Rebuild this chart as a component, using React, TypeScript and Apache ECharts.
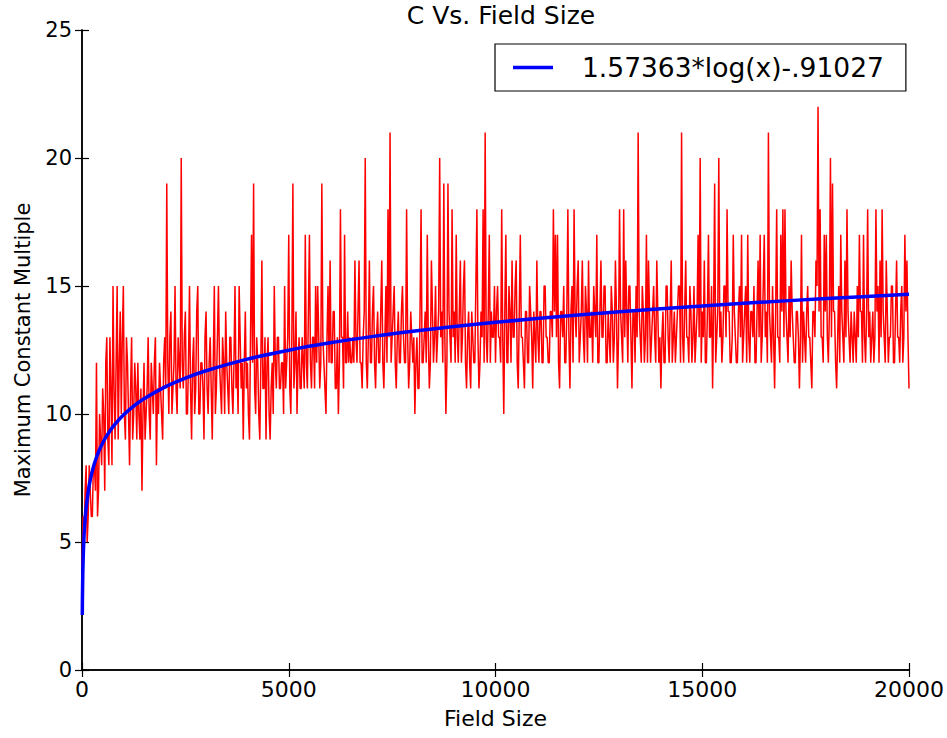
import React, { useEffect, useRef } from "react";
import * as echarts from "echarts";

const TITLE = "C Vs. Field Size";
const X_AXIS_NAME = "Field Size";
const Y_AXIS_NAME = "Maximum Constant Multiple";
const FIT_LABEL = "1.57363*log(x)-.91027";
const X_MIN = 0;
const X_MAX = 20000;
const X_INTERVAL = 5000;
const Y_MIN = 0;
const Y_MAX = 25;
const Y_INTERVAL = 5;

// Field sizes are sampled every FIELD_STEP units, starting at 0 (one row = 1000 units)
const FIELD_STEP = 25;
const maxMultiple = [
  4, 6, 5, 7, 8, 5, 6, 8, 7, 6, 6, 8, 8, 7, 12, 6, 7, 10, 9, 8, 11, 10, 7, 12, 13, 9, 8, 13, 11, 8, 15, 11, 9, 12, 15, 9, 12, 14, 10, 13,
  15, 10, 9, 13, 12, 10, 8, 11, 13, 9, 10, 12, 11, 9, 12, 10, 9, 11, 7, 10, 12, 9, 10, 11, 13, 10, 9, 12, 11, 10, 12, 13, 8, 11, 10, 12, 11, 10, 9, 12,
  13, 11, 19, 12, 10, 13, 14, 10, 11, 12, 15, 11, 10, 13, 12, 11, 20, 12, 11, 13, 14, 10, 10, 12, 15, 11, 9, 12, 13, 10, 11, 14, 15, 10, 10, 12, 12, 11, 9, 13,
  14, 11, 10, 12, 13, 11, 9, 12, 15, 10, 11, 13, 15, 12, 11, 10, 13, 12, 10, 14, 12, 11, 10, 13, 13, 11, 10, 12, 15, 11, 12, 10, 15, 13, 11, 12, 9, 12, 14, 11,
  12, 10, 9, 13, 17, 12, 19, 11, 10, 13, 12, 10, 9, 12, 16, 11, 11, 13, 9, 12, 13, 10, 9, 11, 12, 10, 15, 12, 11, 13, 13, 11, 11, 12, 12, 10, 15, 11, 12, 13,
  17, 11, 10, 13, 19, 11, 12, 14, 10, 12, 13, 11, 11, 13, 12, 11, 17, 12, 11, 14, 17, 12, 11, 13, 13, 11, 15, 12, 15, 13, 11, 12, 19, 13, 12, 11, 10, 13, 15, 12,
  16, 12, 12, 14, 14, 11, 11, 13, 10, 12, 18, 13, 13, 11, 17, 12, 12, 14, 12, 13, 12, 12, 13, 12, 16, 13, 12, 14, 16, 12, 12, 11, 13, 14, 20, 12, 11, 13, 16, 12,
  12, 14, 15, 12, 11, 13, 14, 12, 12, 14, 16, 12, 11, 13, 15, 12, 18, 13, 21, 12, 13, 14, 15, 12, 11, 13, 14, 12, 12, 14, 15, 13, 12, 12, 18, 13, 11, 12, 14, 13,
  12, 13, 10, 12, 13, 11, 11, 14, 18, 12, 12, 13, 14, 12, 17, 13, 11, 12, 16, 14, 12, 13, 15, 12, 13, 14, 20, 13, 14, 12, 19, 13, 10, 12, 19, 14, 13, 12, 18, 13,
  14, 12, 17, 13, 12, 14, 16, 12, 13, 15, 16, 12, 11, 13, 14, 12, 11, 14, 13, 12, 12, 15, 18, 13, 11, 12, 14, 13, 18, 12, 21, 13, 12, 14, 17, 12, 14, 13, 13, 15,
  12, 14, 15, 13, 13, 12, 18, 13, 10, 14, 17, 12, 12, 15, 14, 12, 16, 13, 13, 15, 16, 12, 11, 14, 17, 13, 13, 12, 11, 14, 14, 12, 12, 15, 14, 13, 11, 14, 13, 12,
  16, 13, 12, 14, 14, 12, 12, 15, 15, 13, 13, 12, 12, 14, 14, 13, 18, 14, 17, 13, 17, 12, 11, 14, 14, 13, 15, 12, 12, 14, 18, 13, 11, 14, 15, 12, 18, 14, 13, 15,
  16, 12, 13, 14, 16, 13, 12, 15, 14, 12, 16, 13, 13, 14, 12, 15, 14, 13, 17, 12, 12, 14, 16, 13, 13, 15, 15, 12, 12, 14, 13, 12, 15, 14, 12, 13, 16, 14, 11, 13,
  18, 14, 13, 12, 18, 13, 16, 14, 12, 15, 15, 13, 11, 14, 14, 12, 15, 13, 21, 14, 13, 12, 15, 14, 12, 13, 17, 12, 16, 14, 12, 13, 14, 15, 13, 12, 16, 14, 12, 13,
  11, 13, 14, 12, 12, 15, 15, 13, 12, 14, 16, 12, 13, 14, 12, 13, 14, 15, 15, 12, 21, 13, 12, 14, 16, 13, 13, 12, 15, 14, 12, 13, 15, 12, 13, 14, 17, 13, 20, 12,
  14, 13, 16, 12, 12, 14, 17, 13, 13, 15, 11, 14, 19, 12, 13, 14, 20, 13, 14, 12, 13, 15, 15, 13, 18, 14, 14, 12, 12, 13, 17, 14, 13, 12, 12, 14, 15, 13, 17, 12,
  13, 14, 15, 12, 17, 13, 12, 14, 14, 13, 15, 12, 12, 14, 16, 13, 17, 12, 13, 15, 17, 13, 14, 12, 21, 14, 13, 12, 15, 13, 11, 14, 18, 13, 13, 12, 17, 14, 18, 13,
  18, 14, 13, 12, 15, 13, 16, 14, 13, 12, 12, 14, 14, 13, 11, 13, 17, 12, 14, 13, 12, 14, 15, 13, 13, 12, 11, 14, 14, 13, 16, 15, 22, 14, 18, 13, 13, 12, 17, 14,
  17, 13, 12, 14, 20, 13, 19, 14, 14, 12, 11, 13, 15, 12, 17, 14, 13, 12, 16, 13, 18, 14, 13, 12, 14, 13, 12, 14, 13, 12, 15, 13, 17, 14, 14, 12, 17, 13, 12, 14,
  18, 13, 14, 12, 13, 14, 12, 13, 18, 14, 15, 12, 16, 13, 18, 14, 13, 12, 16, 14, 12, 13, 13, 15, 15, 12, 12, 14, 16, 13, 13, 12, 14, 15, 12, 13, 17, 14, 16, 13,
  11,
];

// Fitted curve 1.57363*log(x)-.91027, sampled points
const fitX = [7, 10, 20, 30, 50, 75, 100, 150, 200, 250, 300, 400, 500, 600, 750, 1000, 1250, 1500, 2000, 2500, 3000, 4000, 5000, 6000, 7000, 8000, 10000, 12000, 14000, 16000, 18000, 20000];
const fitY = [2.152, 2.713, 3.804, 4.442, 5.246, 5.884, 6.337, 6.975, 7.427, 7.779, 8.066, 8.518, 8.869, 9.156, 9.507, 9.96, 10.311, 10.598, 11.051, 11.402, 11.689, 12.142, 12.493, 12.78, 13.022, 13.233, 13.583, 13.87, 14.113, 14.324, 14.509, 14.675];

const FONT = "DejaVu Sans";

export default function App() {
  const ref = useRef<HTMLDivElement>(null);
  useEffect(() => {
    document.body.style.margin = "0";
    if (!ref.current) return;
    const chart = echarts.init(ref.current, null, { renderer: "svg" });
    const redData = maxMultiple.map((v, i) => [i * FIELD_STEP, v]);
    const fitData = fitX.map((x, i) => [x, fitY[i]]);
    const axisLine = { show: true, lineStyle: { color: "#000", width: 1.5 } };
    const tick = { show: true, inside: true, length: 7, lineStyle: { color: "#000", width: 1.2 } };
    chart.setOption({
      animation: false,
      backgroundColor: "#fff",
      textStyle: { fontFamily: FONT },
      title: {
        text: TITLE,
        left: 496,
        top: -2,
        textAlign: "center",
        textStyle: { fontFamily: FONT, fontSize: 25, fontWeight: "normal", color: "#000" },
      },
      grid: { left: 82, right: 37, top: 30, bottom: 68 },
      legend: {
        show: true,
        left: 495,
        top: 44,
        orient: "horizontal",
        data: [{ name: FIT_LABEL, icon: "rect" }],
        itemWidth: 40,
        itemHeight: 3.5,
        padding: [10, 22, 10, 18],
        borderColor: "#000",
        borderWidth: 1.2,
        borderRadius: 0,
        backgroundColor: "#fff",
        textStyle: { fontFamily: FONT, fontSize: 26.5, color: "#000", padding: [0, 0, 0, 24] },
        selectedMode: false,
      },
      xAxis: [
        {
          type: "value",
          min: X_MIN,
          max: X_MAX,
          interval: X_INTERVAL,
          name: X_AXIS_NAME,
          nameLocation: "middle",
          nameGap: 37,
          nameTextStyle: { fontFamily: FONT, fontSize: 22, color: "#000" },
          axisLine,
          axisTick: tick,
          axisLabel: { fontFamily: FONT, fontSize: 22, color: "#000", margin: 8, formatter: (v: number) => String(v) },
          splitLine: { show: false },
        },
        {
          type: "value",
          position: "top",
          min: X_MIN,
          max: X_MAX,
          interval: X_INTERVAL,
          axisLine,
          axisTick: tick,
          axisLabel: { show: false },
          splitLine: { show: false },
        },
      ],
      yAxis: [
        {
          type: "value",
          min: Y_MIN,
          max: Y_MAX,
          interval: Y_INTERVAL,
          name: Y_AXIS_NAME,
          nameLocation: "middle",
          nameGap: 49,
          nameTextStyle: { fontFamily: FONT, fontSize: 21, color: "#000" },
          axisLine,
          axisTick: tick,
          axisLabel: { fontFamily: FONT, fontSize: 21, color: "#000", margin: 10 },
          splitLine: { show: false },
        },
        {
          type: "value",
          position: "right",
          min: Y_MIN,
          max: Y_MAX,
          interval: Y_INTERVAL,
          axisLine,
          axisTick: tick,
          axisLabel: { show: false },
          splitLine: { show: false },
        },
      ],
      series: [
        {
          name: "Maximum Constant Multiple",
          type: "line",
          data: redData,
          showSymbol: false,
          symbol: "none",
          lineStyle: { color: "#ff0000", width: 1.5 },
          itemStyle: { color: "#ff0000" },
          z: 2,
        },
        {
          name: FIT_LABEL,
          type: "line",
          data: fitData,
          showSymbol: false,
          symbol: "none",
          smooth: 0.3,
          lineStyle: { color: "#0000ff", width: 3.5 },
          itemStyle: { color: "#0000ff" },
          z: 3,
        },
      ],
    });
    return () => chart.dispose();
  }, []);
  return <div ref={ref} style={{ width: 947, height: 738 }} />;
}
